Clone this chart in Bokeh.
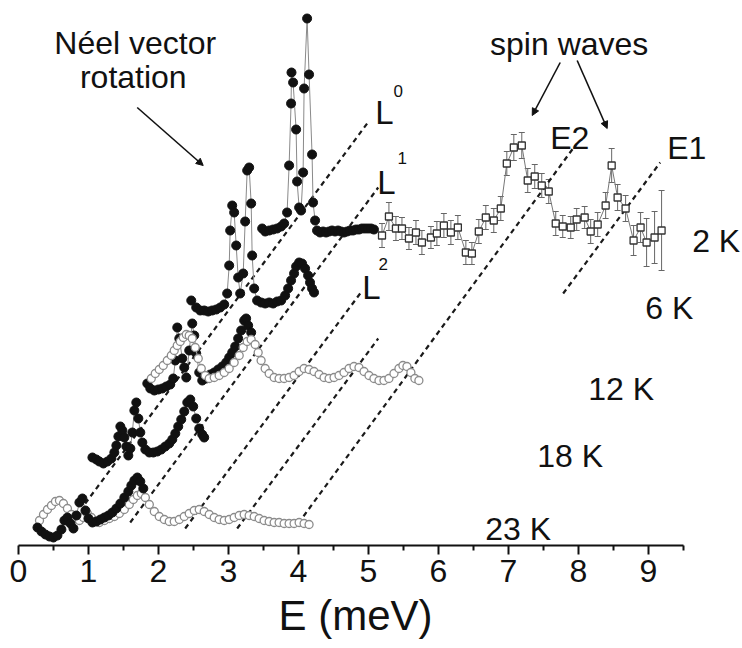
from bokeh.plotting import figure
from bokeh.models import (Range1d, FixedTicker, Label, Arrow, NormalHead, Whisker,
                          TeeHead, ColumnDataSource, Title)
from bokeh.embed import file_html
from bokeh.resources import INLINE

# ---------------- data (E in meV, intensity in offset arbitrary units) ----------------
# 2 K, filled circles
t2_E = [3.481, 3.524, 3.581, 3.638, 3.695, 3.752, 3.795, 3.837, 3.866, 3.894, 3.900, 3.923,
        3.966, 3.980, 4.009, 4.037, 4.066, 4.080, 4.123, 4.151, 4.194, 4.208, 4.237, 4.265,
        4.308, 4.351, 4.394, 4.437, 4.479, 4.522, 4.565, 4.608, 4.650, 4.693, 4.736, 4.779,
        4.822, 4.864, 4.907, 4.950, 4.993, 5.036, 5.078]
t2_I = [315, 312, 313, 314, 315, 317, 320, 331, 378, 440, 471, 461, 414, 362, 336, 333, 371,
        455, 525, 469, 389, 341, 323, 313, 311, 312, 311, 312, 313, 312, 313, 312, 311, 312,
        313, 313, 314, 314, 315, 315, 315, 315, 314]
# 2 K, open squares with error bars
sq_E = [5.193, 5.292, 5.392, 5.478, 5.578, 5.678, 5.763, 5.892, 5.977, 6.077, 6.177, 6.277,
        6.391, 6.477, 6.576, 6.676, 6.790, 6.890, 6.976, 7.076, 7.190, 7.275, 7.375, 7.475,
        7.575, 7.675, 7.775, 7.889, 7.974, 8.088, 8.174, 8.274, 8.388, 8.474, 8.559, 8.673,
        8.787, 8.887, 8.973, 9.087, 9.187]
sq_I = [308, 327, 315, 315, 305, 311, 301, 306, 310, 318, 311, 316, 291, 290, 312, 326, 323,
        335, 380, 396, 398, 363, 367, 358, 352, 320, 317, 316, 324, 326, 312, 319, 338, 378,
        346, 335, 303, 316, 301, 306, 313]
sq_err = [12, 14, 12, 11, 11, 12, 12, 11, 12, 12, 12, 12, 12, 11, 12, 12, 12, 12, 12, 13,
          13, 12, 12, 12, 12, 12, 11, 11, 11, 11, 12, 12, 13, 17, 13, 13, 15, 15, 24, 26, 40]
# 6 K, filled circles
t6_E = [2.468, 2.539, 2.596, 2.653, 2.710, 2.767, 2.825, 2.882, 2.939, 2.981, 3.010, 3.024,
        3.053, 3.081, 3.110, 3.138, 3.167, 3.210, 3.238, 3.267, 3.295, 3.324, 3.338, 3.367,
        3.409, 3.466, 3.524, 3.581, 3.638, 3.695, 3.752, 3.809, 3.852, 3.894, 3.937, 3.966,
        4.009, 4.051, 4.094, 4.137, 4.165, 4.194, 4.222]
t6_I = [243, 236, 233, 233, 232, 233, 234, 236, 239, 250, 278, 313, 338, 331, 298, 266, 250,
        270, 322, 373, 376, 340, 288, 255, 243, 241, 240, 241, 240, 242, 243, 248, 255, 263,
        270, 277, 281, 280, 275, 268, 261, 255, 251]
# 12 K, filled circles
t12b_E = [1.840, 1.883, 1.940, 1.997, 2.054, 2.111, 2.168, 2.211, 2.240, 2.268, 2.297, 2.340,
          2.368, 2.397, 2.439, 2.482, 2.511, 2.539, 2.582, 2.625, 2.682, 2.739, 2.796, 2.853,
          2.910, 2.967, 3.010, 3.053, 3.096, 3.138, 3.181, 3.224, 3.252, 3.281, 3.324]
t12b_I = [160, 155, 153, 154, 155, 157, 159, 165, 183, 216, 205, 185, 176, 166, 193, 220, 208,
          190, 171, 163, 165, 169, 171, 174, 177, 181, 186, 191, 197, 205, 213, 223, 225, 218,
          211]
# 12 K, open circles
t12o_E = [1.897, 1.954, 2.011, 2.068, 2.126, 2.183, 2.225, 2.268, 2.311, 2.354, 2.397, 2.439,
          2.482, 2.525, 2.568, 2.611, 2.668, 2.725, 2.796, 2.867, 2.939, 3.010, 3.081, 3.153,
          3.210, 3.267, 3.324, 3.381, 3.424, 3.466, 3.524, 3.581, 3.652, 3.723, 3.795, 3.866,
          3.937, 4.009, 4.080, 4.151, 4.222, 4.294, 4.365, 4.437, 4.508, 4.579, 4.650, 4.722,
          4.793, 4.864, 4.936, 5.007, 5.078, 5.150, 5.221, 5.292, 5.364, 5.435, 5.492, 5.549,
          5.606, 5.663, 5.720]
t12o_I = [165, 170, 174, 178, 183, 188, 193, 198, 202, 206, 209, 208, 205, 196, 185, 175, 168,
          165, 166, 168, 171, 175, 181, 188, 196, 202, 204, 199, 191, 183, 175, 170, 166, 165,
          165, 166, 168, 172, 175, 174, 172, 169, 166, 165, 166, 168, 171, 175, 177, 176, 172,
          168, 165, 163, 163, 165, 170, 175, 178, 177, 171, 165, 163]
# 18 K, filled circles
t18_E = [1.056, 1.112, 1.155, 1.213, 1.270, 1.327, 1.369, 1.398, 1.427, 1.455, 1.484, 1.512,
         1.541, 1.569, 1.598, 1.626, 1.655, 1.683, 1.712, 1.740, 1.769, 1.812, 1.869, 1.926,
         1.983, 2.040, 2.097, 2.154, 2.197, 2.240, 2.282, 2.325, 2.368, 2.411, 2.454, 2.496,
         2.539, 2.582, 2.625, 2.653]
t18_I = [86, 84, 82, 80, 82, 85, 91, 98, 107, 117, 113, 106, 97, 88, 95, 111, 133, 141, 125,
         111, 101, 94, 91, 91, 92, 94, 97, 100, 104, 110, 117, 124, 132, 141, 144, 137, 125,
         115, 109, 106]
# 23 K, filled circles
t23b_E = [0.271, 0.328, 0.385, 0.442, 0.499, 0.556, 0.613, 0.656, 0.699, 0.742, 0.785, 0.827,
          0.870, 0.913, 0.956, 0.999, 1.056, 1.113, 1.170, 1.227, 1.284, 1.341, 1.398, 1.455,
          1.512, 1.569, 1.612, 1.655, 1.698, 1.740, 1.783]
t23b_I = [16, 12, 9, 7, 6, 8, 14, 23, 26, 20, 15, 28, 41, 45, 33, 25, 21, 22, 24, 26, 28, 31,
          35, 40, 46, 52, 58, 63, 66, 62, 55]
# 23 K, open circles
t23o_E = [0.300, 0.357, 0.414, 0.471, 0.528, 0.585, 0.642, 0.699, 0.756, 0.813, 0.870, 0.927,
          0.984, 1.041, 1.098, 1.155, 1.227, 1.298, 1.369, 1.441, 1.512, 1.583, 1.640, 1.698,
          1.755, 1.812, 1.869, 1.940, 2.011, 2.083, 2.154, 2.225, 2.297, 2.368, 2.439, 2.511,
          2.582, 2.653, 2.725, 2.796, 2.867, 2.939, 3.010, 3.081, 3.153, 3.224, 3.295, 3.367,
          3.438, 3.509, 3.581, 3.652, 3.723, 3.795, 3.866, 3.937, 4.009, 4.080, 4.151]
t23o_I = [23, 29, 34, 38, 42, 43, 40, 35, 29, 25, 23, 26, 30, 26, 22, 21, 23, 25, 27, 30, 34,
          39, 44, 48, 50, 46, 39, 32, 27, 24, 22, 22, 24, 27, 30, 33, 34, 32, 29, 26, 24, 23,
          24, 26, 28, 29, 28, 27, 25, 23, 22, 21, 21, 20, 20, 20, 21, 20, 19]
# dispersion guide lines L0, L1, L2, (unlabelled), E2, E1
guide_names = ["L0", "L1", "L2", "L3", "E2", "E1"]
guide_E0 = [0.953, 1.596, 2.381, 3.124, 3.996, 7.781]
guide_I0 = [40, 21, 15, 15, 20, 250]
guide_E1 = [4.981, 5.139, 4.881, 5.139, 7.953, 9.167]
guide_I1 = [420, 356, 250, 205, 398, 381]
# x-axis ticks
major_ticks = [0, 1, 2, 3, 4, 5, 6, 7, 8, 9]
minor_ticks = [0.5, 1.5, 2.5, 3.5, 4.5, 5.5, 6.5, 7.5, 8.5, 9.5]

FONT = "Liberation Sans"

p = figure(width=742, height=648, output_backend="svg", toolbar_location=None,
           x_range=Range1d(0, 10.343), y_range=Range1d(-2, 543),
           y_axis_location=None, min_border_left=18, min_border_right=0,
           min_border_top=0, min_border_bottom=103)
p.xgrid.visible = False
p.ygrid.visible = False
p.outline_line_color = None
p.background_fill_color = "white"
p.border_fill_color = "white"

ax = p.xaxis[0]
ax.ticker = FixedTicker(ticks=major_ticks, minor_ticks=minor_ticks)
ax.bounds = (0, 9.5)
ax.axis_line_width = 2
ax.axis_line_color = "#111111"
ax.major_tick_line_width = 2
ax.minor_tick_line_width = 2
ax.major_tick_line_color = "#111111"
ax.minor_tick_line_color = "#111111"
ax.major_tick_out = 9
ax.major_tick_in = 0
ax.minor_tick_out = 5
ax.minor_tick_in = 0
ax.major_label_text_font = FONT
ax.major_label_text_font_size = "32px"
ax.major_label_text_color = "#111111"
ax.major_label_standoff = 5

# axis title, placed under E ~ 4.8 meV like the original
p.add_layout(Title(text="E (meV)", align="left", offset=260, standoff=10,
                   text_font=FONT, text_font_size="42px", text_font_style="normal",
                   text_color="#111111"), "below")

# guide lines
p.segment(x0=guide_E0, y0=guide_I0, x1=guide_E1, y1=guide_I1,
          line_color="#1a1a1a", line_width=2.2, line_dash="5 4")

# 2 K squares with error bars
sq_src = ColumnDataSource(dict(E=sq_E, I=sq_I,
                               lo=[v - e for v, e in zip(sq_I, sq_err)],
                               hi=[v + e for v, e in zip(sq_I, sq_err)]))
p.add_layout(Whisker(source=sq_src, base="E", lower="lo", upper="hi", dimension="height",
                     line_color="#666666", line_width=1,
                     lower_head=TeeHead(size=6, line_color="#666666", line_width=1),
                     upper_head=TeeHead(size=6, line_color="#666666", line_width=1)))
p.line(x="E", y="I", source=sq_src, line_color="#777777", line_width=1)
p.scatter(x="E", y="I", source=sq_src, marker="square", size=7, fill_color="white",
          line_color="#333333", line_width=1.3)

OPEN = "#8c8c8c"
p.line(t23o_E, t23o_I, line_color="#aaaaaa", line_width=1)
p.scatter(t23o_E, t23o_I, marker="circle", size=8, fill_color="white", line_color=OPEN,
          line_width=1.3)

# filled-circle traces
for E, I in [(t23b_E, t23b_I), (t18_E, t18_I), (t12b_E, t12b_I), (t6_E, t6_I), (t2_E, t2_I)]:
    p.line(E, I, line_color="#8a8a8a", line_width=1)
    p.scatter(E, I, marker="circle", size=9, fill_color="#111111", line_color="#111111")

p.line(t12o_E, t12o_I, line_color="#aaaaaa", line_width=1)
p.scatter(t12o_E, t12o_I, marker="circle", size=8, fill_color="white", line_color=OPEN,
          line_width=1.3)

# text annotations
def lab(x, y, t, size, align="left", baseline="alphabetic"):
    p.add_layout(Label(x=x, y=y, text=t, text_font=FONT, text_font_size=size,
                       text_align=align, text_baseline=baseline, text_color="#111111"))

lab(1.667, 501, "Néel vector", "32px", "center")
lab(1.640, 467, "rotation", "32px", "center")
lab(7.867, 500, "spin waves", "32px", "center")
lab(5.096, 431, "L", "33px")
lab(5.424, 453, "0", "17px", "center", "middle")
lab(5.124, 361, "L", "33px")
lab(5.481, 386, "1", "17px", "center", "middle")
lab(4.910, 256, "L", "33px")
lab(5.210, 280, "2", "17px", "center", "middle")
lab(7.596, 406, "E2", "32px")
lab(9.267, 396, "E1", "32px")
lab(9.624, 303, "2 K", "32px")
lab(8.953, 236, "6 K", "32px")
lab(8.139, 155, "12 K", "32px")
lab(7.410, 88, "18 K", "32px")
lab(6.667, 15, "23 K", "32px")

for xs, ys, xe, ye in [(1.696, 436, 2.639, 378), (7.739, 481, 7.339, 428), (7.981, 483, 8.410, 415)]:
    p.add_layout(Arrow(x_start=xs, y_start=ys, x_end=xe, y_end=ye, line_width=1.6,
                       line_color="#111111",
                       end=NormalHead(size=7, fill_color="#111111", line_color="#111111")))

open("out.html", "w").write(file_html(p, INLINE))
